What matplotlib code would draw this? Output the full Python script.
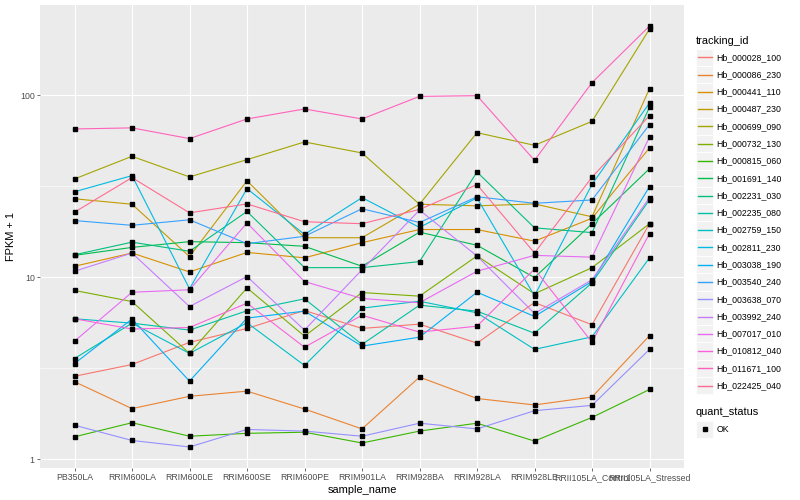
import numpy as np
import matplotlib
matplotlib.use('Agg')
import matplotlib.pyplot as plt
from matplotlib.lines import Line2D
from matplotlib.patches import Rectangle

plt.rcParams['font.family'] = ['Liberation Sans', 'DejaVu Sans']

# --- data (FPKM + 1, one value per sample) ---
samples = ['PB350LA', 'RRIM600LA', 'RRIM600LE', 'RRIM600SE', 'RRIM600PE', 'RRIM901LA',
           'RRIM928BA', 'RRIM928LA', 'RRIM928LE', 'RRII105LA_Control', 'RRII105LA_Stressed']

tracking_ids = ['Hb_000028_100', 'Hb_000086_230', 'Hb_000441_110', 'Hb_000487_230',
                'Hb_000699_090', 'Hb_000732_130', 'Hb_000815_060', 'Hb_001691_140',
                'Hb_002231_030', 'Hb_002235_080', 'Hb_002759_150', 'Hb_002811_230',
                'Hb_003038_190', 'Hb_003540_240', 'Hb_003638_070', 'Hb_003992_240',
                'Hb_007017_010', 'Hb_010812_040', 'Hb_011671_100', 'Hb_022425_040']

# ggplot default hue palette for 20 levels
hue_colors = ['#F8766D', '#EA8331', '#D89000', '#C09B00', '#A3A500', '#7CAE00', '#39B600',
              '#00BB4E', '#00BF7D', '#00C1A3', '#00BFC4', '#00BAE0', '#00B0F6', '#35A2FF',
              '#9590FF', '#C77CFF', '#E76BF3', '#FA62DB', '#FF62BC', '#FF6C91']

hb_000028_100 = [2.86, 3.32, 4.39, 5.24, 6.57, 5.24, 5.53, 4.35, 7.27, 5.49, 19.7]
hb_000086_230 = [2.67, 1.90, 2.22, 2.37, 1.89, 1.47, 2.83, 2.16, 1.99, 2.20, 4.78]
hb_000441_110 = [11.5, 13.6, 10.7, 13.7, 12.8, 15.5, 18.3, 18.3, 15.8, 21.1, 51.4]
hb_000487_230 = [27.0, 25.2, 13.0, 33.9, 16.5, 16.5, 25.2, 24.7, 25.3, 21.5, 108.7]
hb_000699_090 = [34.7, 46.2, 35.6, 44.3, 55.4, 48.2, 25.2, 62.3, 53.1, 71.9, 231.0]
hb_000732_130 = [8.47, 7.36, 3.82, 8.75, 4.75, 8.25, 7.88, 13.1, 8.12, 11.3, 19.7]
hb_000815_060 = [1.33, 1.59, 1.34, 1.39, 1.41, 1.23, 1.43, 1.58, 1.26, 1.70, 2.42]
hb_001691_140 = [13.2, 14.6, 15.7, 15.5, 14.8, 11.5, 17.7, 15.0, 9.97, 19.7, 39.5]
hb_002231_030 = [13.3, 15.6, 13.9, 23.0, 11.3, 11.3, 12.2, 37.9, 18.7, 17.6, 86.0]
hb_002235_080 = [3.58, 5.6, 5.13, 6.55, 7.62, 4.28, 7.03, 6.52, 4.93, 9.33, 26.7]
hb_002759_150 = [5.92, 5.6, 3.82, 5.63, 3.28, 6.77, 7.39, 6.38, 4.02, 4.71, 12.8]
hb_002811_230 = [29.5, 36.2, 8.65, 30.7, 17.2, 27.4, 18.8, 27.3, 7.91, 32.4, 90.7]
hb_003038_190 = [3.36, 5.9, 2.69, 5.97, 6.52, 4.19, 4.69, 8.28, 6.10, 9.48, 31.5]
hb_003540_240 = [20.5, 19.3, 20.7, 15.3, 16.8, 23.8, 20.0, 27.7, 25.5, 26.6, 69.0]
hb_003638_070 = [1.54, 1.27, 1.17, 1.46, 1.43, 1.34, 1.58, 1.47, 1.85, 1.98, 4.02]
hb_003992_240 = [10.8, 13.6, 6.91, 10.1, 5.13, 11.0, 23.4, 13.1, 6.33, 9.69, 27.4]
hb_007017_010 = [4.46, 8.28, 8.54, 19.9, 9.48, 7.65, 7.25, 10.8, 13.2, 12.9, 59.0]
hb_010812_040 = [5.92, 5.2, 5.30, 7.21, 4.13, 6.19, 5.00, 5.39, 11.1, 4.40, 17.4]
hb_011671_100 = [65.3, 66.2, 57.8, 74.1, 84.1, 74.1, 98.6, 99.5, 43.9, 117.3, 240.0]
hb_022425_040 = [22.8, 35.3, 22.6, 25.3, 20.2, 19.7, 23.6, 32.3, 13.6, 35.5, 77.3]

series = [hb_000028_100, hb_000086_230, hb_000441_110, hb_000487_230, hb_000699_090,
          hb_000732_130, hb_000815_060, hb_001691_140, hb_002231_030, hb_002235_080,
          hb_002759_150, hb_002811_230, hb_003038_190, hb_003540_240, hb_003638_070,
          hb_003992_240, hb_007017_010, hb_010812_040, hb_011671_100, hb_022425_040]

# --- figure, laid out in pixels like the ggplot output ---
W, H = 800, 500
fig = plt.figure(figsize=(8, 5), dpi=100)
fig.patch.set_facecolor('white')
panel_l, panel_r, panel_t, panel_b = 40, 684, 5, 468
ax = fig.add_axes([panel_l / W, 1 - panel_b / H, (panel_r - panel_l) / W, (panel_b - panel_t) / H])
ax.set_facecolor('#EBEBEB')
for sp in ax.spines.values():
    sp.set_visible(False)

x = np.arange(len(samples))
for vals, col in zip(series, hue_colors):
    ax.plot(x, vals, color=col, lw=0.8, zorder=3)
for vals in series:
    ax.plot(x, vals, ls='none', marker='s', ms=2.2, color='black', zorder=4)

ax.set_yscale('log')
all_vals = np.log10(np.concatenate([np.array(s) for s in series]))
lo, hi = all_vals.min(), all_vals.max()
pad = (hi - lo) * 0.05
ax.set_ylim(10 ** (lo - pad), 10 ** (hi + pad))
ax.set_xlim(-0.6, len(samples) - 0.4)

ax.set_yticks([1, 10, 100])
ax.set_yticklabels(['1', '10', '100'])
ax.set_yticks([10 ** 0.5, 10 ** 1.5], minor=True)
ax.yaxis.set_minor_formatter(plt.NullFormatter())
ax.set_xticks(x)
ax.set_xticklabels(samples)

ax.grid(True, which='major', color='white', lw=0.8, zorder=0)
ax.grid(True, which='minor', axis='y', color='white', lw=0.4, zorder=0)
ax.set_axisbelow(True)
ax.tick_params(which='major', length=2.2, width=0.5, color='#333333', labelcolor='#4D4D4D',
               labelsize=6.3, pad=1.6)
ax.tick_params(which='minor', length=0)

ax.set_xlabel('sample_name', fontsize=7.9, color='black', labelpad=2)
ax.set_ylabel('FPKM + 1', fontsize=7.9, color='black', labelpad=2.5)


def fx(px):
    return px / W


def fy(py):
    return 1 - py / H


# --- legends, drawn by hand in figure pixels ---
key = 17.28
key_x = 696
fig.text(fx(key_x), fy(40.7), 'tracking_id', fontsize=7.9, va='center', ha='left')
for i, (name, col) in enumerate(zip(tracking_ids, hue_colors)):
    yc = 57.3 + i * key
    fig.patches.append(Rectangle((fx(key_x), fy(yc + key / 2)), key / W, key / H,
                                 transform=fig.transFigure, facecolor='#F2F2F2',
                                 edgecolor='white', lw=0.6, zorder=1))
    fig.lines.append(Line2D([fx(key_x + 1.7), fx(key_x + key - 1.7)], [fy(yc), fy(yc)],
                            transform=fig.transFigure, color=col, lw=1.0, zorder=5))
    fig.text(fx(716.7), fy(yc), name, fontsize=6.3, va='center', ha='left')

fig.text(fx(key_x), fy(412.3), 'quant_status', fontsize=7.9, va='center', ha='left')
yc = 429.3
fig.patches.append(Rectangle((fx(key_x), fy(yc + key / 2)), key / W, key / H,
                             transform=fig.transFigure, facecolor='#F2F2F2',
                             edgecolor='white', lw=0.6, zorder=1))
fig.lines.append(Line2D([fx(key_x + key / 2)], [fy(yc)], transform=fig.transFigure,
                        ls='none', marker='s', ms=2.2, color='black', zorder=5))
fig.text(fx(716.7), fy(yc), 'OK', fontsize=6.3, va='center', ha='left')

fig.savefig('out.png', dpi=100)
